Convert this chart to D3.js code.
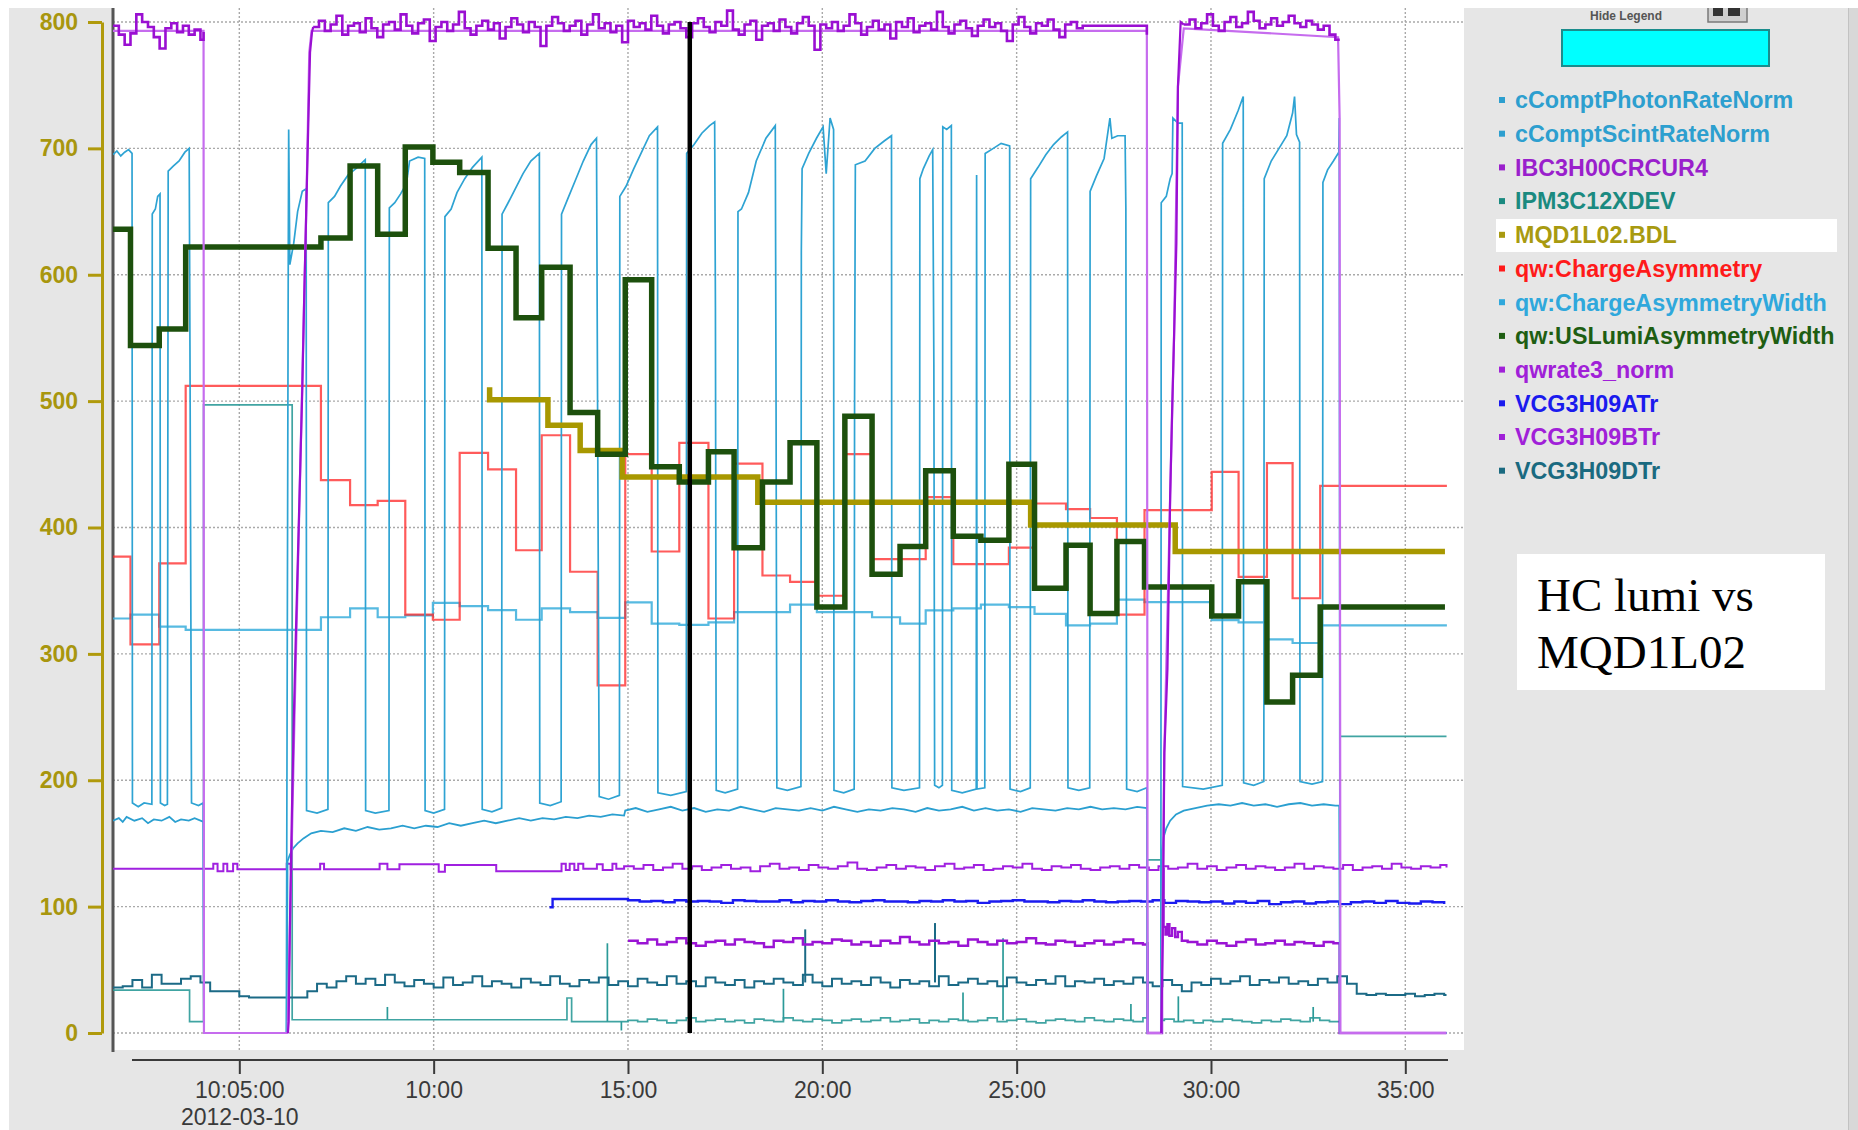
<!DOCTYPE html>
<html>
<head>
<meta charset="UTF-8">
<title>HC lumi vs MQD1L02</title>
<script src="https://d3js.org/d3.v7.min.js"></script>
<style>
  body { margin: 0; background: #fff; }
  svg { display: block; font-family: "Liberation Sans", Arial, sans-serif; }
</style>
</head>
<body>
<div id="chart"></div>
<script>
/*global d3*/

// ---- data: minutes after 10:00 on 2012-03-10, value ----
var legendNames = ["cComptPhotonRateNorm", "cComptScintRateNorm", "IBC3H00CRCUR4", "IPM3C12XDEV",
  "MQD1L02.BDL", "qw:ChargeAsymmetry", "qw:ChargeAsymmetryWidth", "qw:USLumiAsymmetryWidth",
  "qwrate3_norm", "VCG3H09ATr", "VCG3H09BTr", "VCG3H09DTr"];
var legendColors = ["#2d9fcf", "#2d9fcf", "#9a1fcc", "#1a8a80", "#a89a10", "#ff1a1a",
  "#2fa8dc", "#1e5e12", "#a020d8", "#1a1aee", "#a020d8", "#1a6a80"];
var yTicks = [0, 100, 200, 300, 400, 500, 600, 700, 800];
var xTicks = [5, 10, 15, 20, 25, 30, 35];
var cursorMinute = 16.59;

// qw:USLumiAsymmetryWidth (step)
var lumiWidth = [[1.75,636],[2.20,544],[2.94,557],[3.62,622],[7.10,629],[7.85,686],[8.56,632],[9.27,701],
  [9.98,689],[10.67,681],[11.40,621],[12.12,566],[12.78,606],[13.51,491],[14.22,458],[14.93,596],[15.61,448],
  [16.32,436],[17.07,460],[17.73,384],[18.46,436],[19.17,467],[19.86,337],[20.58,488],[21.28,363],[22.00,385],
  [22.66,445],[23.37,393],[24.08,390],[24.80,450],[25.46,352],[26.27,386],[26.89,332],[27.58,389],[28.29,353],
  [30.02,330],[30.71,357],[31.44,262],[32.10,283],[32.81,337],[36.02,337]];

// qw:ChargeAsymmetry (step)
var chargeAsym = [[1.75,377],[2.20,307.5],[2.94,371.6],[3.62,512],[7.10,437.5],[7.85,417.7],[8.56,421],[9.27,331],
  [9.98,327],[10.67,459],[11.40,446],[12.12,382],[12.78,473],[13.51,365],[14.22,275],[14.93,458],[15.61,381],
  [16.32,467],[17.07,328],[17.73,450.5],[18.46,362],[19.17,357],[19.86,346],[20.58,458],[21.28,375],[22.66,424],
  [23.37,371],[24.80,384],[25.46,419],[26.27,414.6],[26.89,407.5],[27.58,331],[28.29,413.8],[30.02,444],
  [30.71,361],[31.44,451],[32.10,344],[32.81,433],[36.07,433]];

// qw:ChargeAsymmetryWidth (step)
var chargeAsymWidth = [[1.75,328],[2.20,331],[2.94,321.5],[3.62,319],[7.10,329],[7.85,336],[8.56,329],[9.27,330.4],
  [9.98,340.4],[10.67,337.8],[11.40,334.6],[12.12,327],[12.78,336],[13.51,333],[14.22,328.5],[14.93,340.7],
  [15.61,324],[16.32,323],[17.07,325],[17.73,333],[19.17,339],[19.86,333],[21.28,329],[22.00,324],[22.66,334.5],
  [23.37,336],[24.08,339],[24.80,337],[25.46,331.7],[26.27,322.5],[26.89,324],[27.58,343],[28.29,341],
  [30.02,326.7],[30.71,325],[31.44,311.5],[32.10,308.6],[32.81,322.5],[36.07,322.5]];

// MQD1L02.BDL (step)
var mqdBdl = [[11.44,511],[11.44,501],[12.94,481],[13.77,461],[14.85,440],[18.34,420],[25.36,402],[29.08,381],[36.02,381]];

// cComptPhotonRateNorm (laser cycles)
var photonRate = [
  [1.75,695],[1.85,698],[1.95,694],[2.05,697],[2.15,699],[2.24,696],[2.25,182],[2.4,179],[2.55,182],[2.75,181],
  [2.76,648],[2.84,652],[2.9,662],[2.96,664],[2.97,182],[3.08,180],[3.15,181],
  [3.16,438],[3.17,682],[3.3,686],[3.45,690],[3.6,697],[3.71,700],[3.73,543],[3.77,182],[3.95,180],[4.07,182],
  [4.09,0],[6.21,0],[6.22,138],[6.26,619],[6.27,715],[6.3,608],[6.4,625],[6.5,650],[6.62,666],[6.72,668],
  [6.73,176],[7.0,174],[7.28,177],
  [7.29,657],[7.45,662],[7.6,670],[7.8,679],[8.0,684],[8.24,691],[8.25,176],[8.5,174],[8.85,176],
  [8.86,653],[9.0,657],[9.15,664],[9.3,672],[9.38,690],[9.6,693],[9.77,692],[9.78,176],[10.0,174],[10.28,177],
  [10.29,646],[10.45,652],[10.6,665],[10.8,676],[11.0,685],[11.24,693],[11.25,177],[11.5,175],[11.75,178],
  [11.76,648],[11.9,656],[12.1,668],[12.3,680],[12.5,690],[12.72,696],[12.73,182],[13.0,180],[13.28,183],
  [13.29,648],[13.45,660],[13.65,675],[13.85,690],[14.05,703],[14.19,708],[14.21,554],[14.26,187],[14.5,185],[14.78,188],
  [14.79,662],[14.95,670],[15.15,684],[15.35,697],[15.55,710],[15.76,717],[15.77,190],[16.1,188],[16.5,191],
  [16.51,696],[16.7,703],[16.9,712],[17.1,718],[17.23,721],[17.25,574],[17.27,192],[17.5,190],[17.82,193],
  [17.83,650],[17.92,652],[18.1,665],[18.3,690],[18.55,708],[18.79,718],[18.81,498],[18.83,194],[19.1,192],[19.45,195],
  [19.46,619],[19.48,684],[19.65,696],[19.85,708],[20.02,717],[20.1,680],[20.2,724],[20.29,715],[20.3,192],[20.55,190],[20.82,193],
  [20.83,501],[20.85,687],[21.1,690],[21.35,700],[21.6,706],[21.78,710],[21.79,194],[22.1,192],[22.5,194],
  [22.51,676],[22.6,684],[22.75,694],[22.84,699],[22.87,529],[22.89,196],[23.0,194],[23.09,196],
  [23.1,717],[23.2,715],[23.32,718],[23.33,192],[23.6,190],[23.96,193],
  [23.97,679],[23.98,193],[24.18,194],[24.19,696],[24.4,700],[24.6,704],[24.82,702],[24.83,193],[25.1,191],[25.35,194],
  [25.36,676],[25.55,685],[25.75,695],[25.95,703],[26.15,709],[26.31,713],[26.32,194],[26.6,192],[26.88,194],
  [26.89,666],[27.05,678],[27.25,692],[27.4,724],[27.45,708],[27.6,710],[27.79,710],[27.81,653],[27.83,193],[28.1,191],[28.35,194],
  [28.37,0],[28.71,0],[28.72,657],[28.85,662],[28.95,676],[29.0,680],[29.02,724],[29.15,720],[29.26,720],[29.27,195],[29.8,193],[30.29,196],
  [30.3,704],[30.5,715],[30.7,730],[30.83,741],[30.84,198],[31.1,196],[31.36,199],
  [31.37,676],[31.55,690],[31.75,700],[31.95,710],[32.1,728],[32.15,741],[32.2,711],[32.28,705],[32.29,199],[32.6,197],[32.87,199],
  [32.88,673],[33.0,683],[33.15,690],[33.29,697],[33.3,724],[33.32,0],[36.06,0]];

// cComptScintRateNorm
var scintRate = [
  [1.75,168],[1.9,170],[2.0,167],[2.1,171],[2.3,168],[2.5,170],[2.65,166],[2.8,169],[3.0,168],[3.2,171],[3.35,167],
  [3.5,169],[3.7,168],[3.85,170],[4.08,167],[4.09,0],[6.22,0],[6.24,136],[6.3,141],[6.38,146],[6.5,150],[6.65,154],
  [6.85,158],[7.1,160],[7.4,159],[7.7,162],[8.0,160],[8.3,163],[8.6,161],[8.9,162],[9.2,164],[9.5,162],[9.8,164],
  [10.1,163],[10.4,166],[10.7,164],[11.0,166],[11.3,168],[11.6,166],[11.9,168],[12.2,170],[12.5,168],[12.8,170],
  [13.1,169],[13.4,171],[13.7,170],[14.0,172],[14.3,171],[14.6,173],[14.9,172],[14.93,176],[15.2,178],[15.5,175],
  [15.8,177],[16.1,179],[16.4,176],[16.7,178],[17.0,175],[17.3,177],[17.6,176],[17.9,179],[18.2,177],[18.5,175],
  [18.8,178],[19.1,177],[19.4,176],[19.7,178],[20.0,176],[20.3,179],[20.6,177],[20.9,175],[21.2,177],[21.5,176],
  [21.8,178],[22.1,177],[22.4,175],[22.7,178],[23.0,176],[23.3,177],[23.6,179],[23.9,176],[24.2,178],[24.5,176],
  [24.8,177],[25.1,175],[25.4,178],[25.7,177],[26.0,176],[26.3,178],[26.6,177],[26.9,179],[27.2,177],[27.5,178],
  [27.8,177],[28.1,179],[28.35,178],[28.37,0],[28.72,0],[28.74,144],[28.78,155],[28.85,162],[28.95,168],[29.1,173],
  [29.3,176],[29.6,178],[29.9,180],[30.2,181],[30.5,180],[30.8,182],[31.1,180],[31.4,181],[31.7,179],[32.0,181],
  [32.3,182],[32.6,180],[32.9,181],[33.2,180],[33.3,180],[33.32,0],[36.06,0]];

// IBC3H00CRCUR4 (noisy beam current) and its held envelope
var ibcNoise1 = [797,790,782,791,806,800,796,788,779,795,799,792,797,790,794,786];
var ibcRamp2 = [[6.25,0],[6.27,9],[6.3,81],[6.35,170],[6.4,246],[6.45,310],[6.57,450],[6.62,509],[6.67,583],
  [6.72,648],[6.77,713],[6.82,776],[6.87,792],[6.9,796]];
var ibcNoise2 = [796,801,793,798,805,790,797,799,792,803,795,788,798,800,794,806,797,791,799,802,
  785,796,800,793,798,808,795,790,797,801,794,799,787,796,803,798,792,800,796,781,
  797,804,799,793,797,801,790,798,806,795,799,792,797,784,801,796,799,794,805,797,
  791,798,800,795,788,799,803,796,792,800,797,809,794,790,798,801,786,797,799,793,
  802,796,791,799,804,797,778,798,795,800,793,797,806,799,790,796,801,794,798,787,
  800,796,803,792,797,799,794,808,796,791,798,801,795,789,797,802,796,799,793,785,
  798,804,796,791,799,797,802,794,788,798,800,795,797];
var ibcRamp3 = [[28.72,0],[28.76,75],[28.8,222],[28.88,288],[28.95,425],[29.0,492],[29.05,551],[29.11,625],
  [29.15,749],[29.22,800],[29.3,798]];
var ibcNoise3 = [798,802,795,799,806,797,793,800,804,796,799,808,801,795,798,803,797,800,805,799,796,801,798,794,797,790,786];
var ibcEnvelope = [[1.75,793],[4.08,793],[4.09,0],[6.24,0],[6.3,80],[6.42,250],[6.57,450],[6.72,648],[6.8,776],
  [6.86,793],[28.35,793],[28.37,0],[28.72,0],[28.8,222],[28.95,425],[29.05,551],[29.15,749],[29.3,795],
  [33.27,788],[33.31,724],[33.33,0],[36.06,0]];

// qwrate3_norm (~71)
var rateNoise1 = [73,71,74,70,72,75,71,69,72,73,70,74,72,71,68,73,72,75,70,72,71,74,73,70,72,69,73,71,76,72,
  70,73,71,72,69,74,72,70,73,71,72,75,71,70,73,72,69,71,73,70,72,74,71,70];
var rateTrip = [[28.36,71],[28.37,0],[28.72,0],[28.74,130],[28.78,84],[28.83,78],[28.88,86],[28.93,77],[29.0,83],
  [29.08,76],[29.15,80],[29.25,73]];
var rateNoise2 = [72,70,73,71,69,72,74,70,71,73,70,72,71,69,72,71];

// VCG3H09ATr (~104)
var vcgAStart = [[12.98,99.5],[13.06,106],[14.98,106]];
var vcgANoise = [105,104,104.5,103.5,105,104,104.5,104,103,105,104.5,104,104,105,103.5,104.5,104,105,104,103.5,
  104.5,105,104,104,103.5,104.5,104,105,104,104.5,103,104,104.5,105,104,104,103.5,104.5,104,105,
  104,103.5,104,104.5,104,105,103,104.5,104,103.5,104,102.5,104,103,104.5,102,103.5,104,102.5,103.5,
  104,102,103.5,104,103,104.5,103,102.5,104,103.5,102];

// VCG3H09BTr (~130, step)
var vcgBSteps = [[1.75,130],[4.33,134],[4.44,128],[4.59,134],[4.69,128],[4.84,134],[4.95,129.5],[6.22,134],
  [6.32,129.5],[7.08,134],[7.18,129.5],[8.61,134],[8.81,129.5],[9.12,133.5],[10.13,127.5],[10.29,133],[11.61,128],
  [13.29,134],[13.4,129],[13.5,134],[13.62,129],[13.72,134],[13.85,130],[14.2,133.5],[14.35,129],[14.6,134],[14.7,130]];
var vcgBNoise = [132,130,133,129,131,134,130,132,129,131,133,130,131,128,132,134,130,131,129,133,
  131,130,132,135,130,129,131,133,130,132,131,129,132,134,130,131,133,129,130,132,
  131,134,130,129,132,131,133,130,129,131,132,130,133,131,129,132,130,131,134,130,
  132,129,131,133,130,132,131,129,131,134,130,132,131,130,133,129,131,132,130,134,
  131,130,132,131,133];

// VCG3H09DTr (~38, step), samples every 0.25 min from 1.75
var vcgDNoise = [36,37,42,36,46,39,39,43,45,40, 33,33,33,29,28,28,28,28,28,28,
  33,39,36,41,45,39,43,38,46,40, 37,42,39,36,44,38,40,45,37,41,
  39,36,43,40,38,45,39,37,42,40, 44,38,41,37,43,40,38,45,39,41,
  37,44,40,38,42,36,41,39,43,40, 38,46,40,37,43,39,41,38,44,40,
  36,42,39,41,37,45,38,40,43,39, 41,37,44,40,38,42,39,45,37,41,
  40,43,38,41,39,44,40,37,42,38, 33,40,38,43,39,41,45,38,42,40,
  44,39,41,38,43,40,45,39,31,30, 31,30,30,31,29,30,31,30];
var vcgDSpikes = [[19.56,40,82],[22.9,40,87]];

// IPM3C12XDEV (step)
var ipmSteps = [[1.75,34],[3.72,9],[4.08,497],[6.36,10.5],[13.43,27.7],[13.55,9],[14.5,9]];
var ipmNoise1 = [10,9,11,10,8,10,12,9,10,11,9,10,8,11,10,9,12,10,9,11,10,8,10,11,9,10,12,9,10,11,
  8,10,9,11,10,9,10,12,9,10,11,9,8,10,11,10,9,12,10,9,11,10,9,12];
var ipmTrip = [[28.36,137],[28.72,10]];
var ipmNoise2 = [11,9,10,8,10,9,11,10,9,8,10,9,11,10,9,12,10,9];
var ipmEnd = [[33.32,234.7],[36.06,234.7]];
var ipmSpikes = [[8.81,10.5,20.6],[14.47,9,71],[14.83,9,2],[19.0,10,35],[23.62,10,32],[24.65,10,75],
  [27.94,10,23],[29.16,9,29],[32.63,9,20.6]];

// ---- helpers ----
function sampled(start, step, vals) {
  return vals.map(function(v, i) { return [+(start + i * step).toFixed(3), v]; });
}
var t0 = new Date(2012, 2, 10, 10, 0, 0);
function T(m) { return new Date(t0.getTime() + m * 60000); }

var W = 1858, H = 1130;
var svg = d3.select("#chart").append("svg").attr("width", W).attr("height", H);

// screenshot background
svg.append("rect").attr("x", 9).attr("y", 8).attr("width", 1839).attr("height", H - 8).attr("fill", "#e6e6e6");
svg.append("rect").attr("x", 1848).attr("y", 8).attr("width", 10).attr("height", H - 8).attr("fill", "#d8d8d8");
svg.append("line").attr("x1", 1848.5).attr("x2", 1848.5).attr("y1", 8).attr("y2", H)
  .attr("stroke", "#c2c2c2").attr("stroke-width", 1);
// plot area
svg.append("rect").attr("x", 113).attr("y", 8).attr("width", 1351).attr("height", 1042).attr("fill", "#ffffff");

var x = d3.scaleTime().domain([T(1.75), T(36.51)]).range([113, 1464]);
var y = d3.scaleLinear().domain([0, 800]).range([1033, 22]);

svg.append("clipPath").attr("id", "plotclip").append("rect")
  .attr("x", 113).attr("y", 8).attr("width", 1351).attr("height", 1042);

// grid
var grid = svg.append("g").attr("stroke", "#a9a9a9").attr("stroke-width", 1.4).attr("stroke-dasharray", "2,2");
grid.selectAll(".hg").data(yTicks).enter().append("line")
  .attr("x1", 113).attr("x2", 1463).attr("y1", function(d) { return y(d); }).attr("y2", function(d) { return y(d); });
grid.selectAll(".vg").data(xTicks).enter().append("line")
  .attr("y1", 8).attr("y2", 1050).attr("x1", function(d) { return x(T(d)); }).attr("x2", function(d) { return x(T(d)); });

// left dark frame line
svg.append("line").attr("x1", 113).attr("x2", 113).attr("y1", 8).attr("y2", 1052)
  .attr("stroke", "#555").attr("stroke-width", 3);

// y axis (gold)
var yAxis = svg.append("g").attr("transform", "translate(102,0)")
  .call(d3.axisLeft(y).tickValues(yTicks).tickSize(14).tickSizeOuter(0).tickPadding(10));
yAxis.select(".domain").attr("stroke", "#b09a0c").attr("stroke-width", 3);
yAxis.selectAll(".tick line").attr("stroke", "#b09a0c").attr("stroke-width", 3);
yAxis.selectAll(".tick text").attr("fill", "#a8960e").style("font-size", "23px").style("font-weight", "bold")
  .style("font-family", "'Liberation Sans', Arial, sans-serif");

// x axis
var fmtFirst = d3.timeFormat("%H:%M:%S"), fmtRest = d3.timeFormat("%M:%S");
var xAxis = svg.append("g").attr("transform", "translate(0,1060)")
  .call(d3.axisBottom(x).tickValues(xTicks.map(T)).tickSize(14).tickPadding(8)
    .tickFormat(function(d, i) { return i === 0 ? fmtFirst(d) : fmtRest(d); }));
xAxis.select(".domain").remove();
xAxis.append("line").attr("x1", 132).attr("x2", 1448).attr("y1", 0).attr("y2", 0)
  .attr("stroke", "#3a3a3a").attr("stroke-width", 2);
xAxis.selectAll(".tick line").attr("stroke", "#3a3a3a").attr("stroke-width", 2);
xAxis.selectAll(".tick text").attr("fill", "#3a3a3a").style("font-size", "23px")
  .style("font-family", "'Liberation Sans', Arial, sans-serif");
xAxis.select(".tick text").append("tspan").attr("x", 0).attr("dy", "1.15em").text("2012-03-10");

// ---- series ----
var plot = svg.append("g").attr("clip-path", "url(#plotclip)");
var lineLin = d3.line().defined(function(d) { return d !== null; })
  .x(function(d) { return x(T(d[0])); }).y(function(d) { return y(d[1]); });
var lineStep = d3.line().curve(d3.curveStepAfter)
  .x(function(d) { return x(T(d[0])); }).y(function(d) { return y(d[1]); });

function draw(data, gen, color, width, opacity) {
  plot.append("path").datum(data).attr("d", gen).attr("fill", "none")
    .attr("stroke", color).attr("stroke-width", width).attr("stroke-opacity", opacity || 1)
    .attr("stroke-linejoin", "miter");
}
function spikes(list, color, width) {
  plot.selectAll(null).data(list).enter().append("line")
    .attr("x1", function(d) { return x(T(d[0])); }).attr("x2", function(d) { return x(T(d[0])); })
    .attr("y1", function(d) { return y(d[1]); }).attr("y2", function(d) { return y(d[2]); })
    .attr("stroke", color).attr("stroke-width", width);
}

var ipm = ipmSteps.concat(sampled(15.0, 0.25, ipmNoise1), ipmTrip, sampled(28.8, 0.25, ipmNoise2), ipmEnd);
draw(ipm, lineStep, "#2b9a98", 1.7, 0.9);
spikes(ipmSpikes, "#2b9a98", 1.7);

var vcgD = sampled(1.75, 0.25, vcgDNoise).concat([[36.06, 30]]);
draw(vcgD, lineStep, "#1b6a86", 2);
spikes(vcgDSpikes, "#1b6a86", 2);

var vcgA = vcgAStart.concat(sampled(15.0, 0.3, vcgANoise));
draw(vcgA, lineStep, "#1c1cf0", 2.4);

var vcgB = vcgBSteps.concat(sampled(14.9, 0.25, vcgBNoise), [[36.06, 131]]);
draw(vcgB, lineStep, "#a020e0", 2);

var rate = sampled(15.0, 0.25, rateNoise1).concat(rateTrip, sampled(29.4, 0.25, rateNoise2),
  [[33.3, 71], [33.31, 0], [36.06, 0]]);
draw(rate, lineStep, "#9a14d4", 2.4);

draw(scintRate, lineLin, "#2a9fd0", 1.8);
draw(chargeAsymWidth, lineStep, "#3aaedc", 2.2, 0.85);
draw(chargeAsym, lineStep, "#ff2424", 2.2, 0.75);
draw(photonRate, lineLin, "#2ea3d3", 1.7);
draw(mqdBdl, lineStep, "#a89800", 5.5);
draw(lumiWidth, lineStep, "#1d500d", 5.5);

draw(ibcEnvelope, lineLin, "#c66cee", 2.2);
draw(ibcRamp2, lineLin, "#9a0fd2", 2.2);
draw(ibcRamp3, lineLin, "#9a0fd2", 2.2);
var ibcFlat = [sampled(1.75, 0.15, ibcNoise1).concat([[4.08, 792]]),
  sampled(6.9, 0.15, ibcNoise2).concat([[28.35, 790]]),
  sampled(29.3, 0.15, ibcNoise3).concat([[33.28, 785]])];
ibcFlat.forEach(function(seg) { draw(seg, lineStep, "#9a0fd2", 2.6); });

// time cursor
plot.append("line").attr("x1", x(T(cursorMinute))).attr("x2", x(T(cursorMinute)))
  .attr("y1", y(800)).attr("y2", y(0)).attr("stroke", "#000").attr("stroke-width", 4.5);

// ---- legend panel ----
svg.append("text").attr("x", 1590).attr("y", 20).attr("fill", "#555")
  .style("font-size", "12px").style("font-weight", "bold").text("Hide Legend");
svg.append("rect").attr("x", 1708).attr("y", -2).attr("width", 39).attr("height", 24)
  .attr("fill", "#cfcfcf").attr("stroke", "#7a7a7a").attr("stroke-width", 1.5);
svg.append("rect").attr("x", 1713).attr("y", 8).attr("width", 10).attr("height", 8).attr("fill", "#333");
svg.append("rect").attr("x", 1728).attr("y", 8).attr("width", 12).attr("height", 8).attr("fill", "#333");
svg.append("rect").attr("x", 0).attr("y", 0).attr("width", W).attr("height", 8).attr("fill", "#fff");
svg.append("rect").attr("x", 0).attr("y", 0).attr("width", 9).attr("height", H).attr("fill", "#fff");

svg.append("rect").attr("x", 1562).attr("y", 30).attr("width", 207).attr("height", 36)
  .attr("fill", "#00ffff").attr("stroke", "#1b8c8c").attr("stroke-width", 2);

svg.append("rect").attr("x", 1496).attr("y", 219).attr("width", 341).attr("height", 33).attr("fill", "#ffffff");

var leg = svg.append("g").selectAll("g").data(legendNames).enter().append("g")
  .attr("transform", function(d, i) { return "translate(1499," + (100 + i * 33.7) + ")"; });
leg.append("rect").attr("x", 0).attr("y", -3).attr("width", 6).attr("height", 6)
  .attr("fill", function(d, i) { return legendColors[i]; });
leg.append("text").attr("x", 16).attr("dy", "0.36em")
  .attr("fill", function(d, i) { return legendColors[i]; })
  .style("font-size", "23.3px").style("font-weight", "bold")
  .text(function(d) { return d; });

// annotation box
svg.append("rect").attr("x", 1517).attr("y", 554).attr("width", 308).attr("height", 136).attr("fill", "#fff");
svg.append("text").attr("x", 1537).attr("y", 611).attr("fill", "#000")
  .style("font-family", "'Liberation Serif', 'Times New Roman', serif").style("font-size", "47px")
  .text("HC lumi vs");
svg.append("text").attr("x", 1537).attr("y", 668).attr("fill", "#000")
  .style("font-family", "'Liberation Serif', 'Times New Roman', serif").style("font-size", "47px")
  .text("MQD1L02");
</script>
</body>
</html>
